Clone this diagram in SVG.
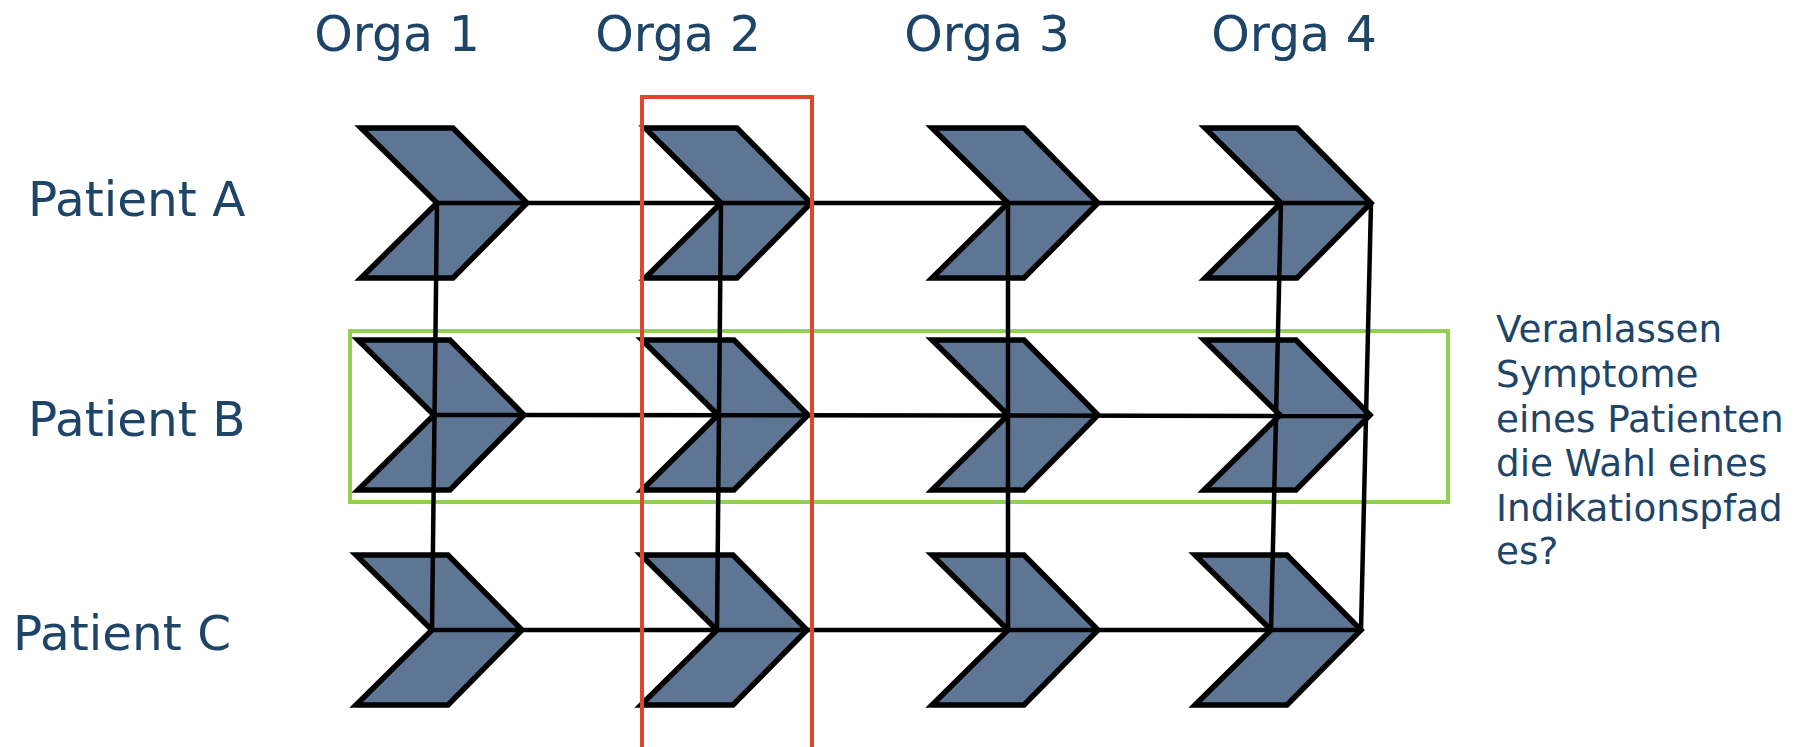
<svg xmlns="http://www.w3.org/2000/svg" width="1802" height="747" viewBox="0 0 1802 747">
  <defs>
    <style>
      .lbl { font-family: "DejaVu Sans", Verdana, sans-serif; fill: #1e4568; }
      .head { font-size: 49px; text-anchor: middle; }
      .row { font-size: 48.5px; }
      .note { font-size: 37.3px; }
      .chev { fill: #5e7594; stroke: #000; stroke-width: 5.5; stroke-linejoin: miter; }
      .link { stroke: #000; stroke-width: 4.5; fill: none; stroke-linecap: butt; }
    </style>
    <!-- chevron, left edge at x=0, top at y=0 -->
    <path id="chevron" d="M0,0 L92,0 L166,75 L92,150 L0,150 L76,75 Z"/>
  </defs>

  <rect width="1802" height="747" fill="#ffffff"/>

  <!-- column headings -->
  <g id="headings">
    <text class="lbl head" x="397" y="51">Orga 1</text>
    <text class="lbl head" x="678" y="51">Orga 2</text>
    <text class="lbl head" x="987" y="51">Orga 3</text>
    <text class="lbl head" x="1294" y="51">Orga 4</text>
  </g>

  <!-- row labels -->
  <g id="row-labels">
    <text class="lbl row" x="28" y="216">Patient A</text>
    <text class="lbl row" x="28" y="436">Patient B</text>
    <text class="lbl row" x="13" y="650">Patient C</text>
  </g>

  <!-- process steps -->
  <g id="a1"><use href="#chevron" class="chev" x="361" y="128"/></g>
  <g id="a2"><use href="#chevron" class="chev" x="645" y="128"/></g>
  <g id="a3"><use href="#chevron" class="chev" x="932" y="128"/></g>
  <g id="a4"><use href="#chevron" class="chev" x="1205" y="128"/></g>

  <g id="b1"><use href="#chevron" class="chev" x="358" y="340"/></g>
  <g id="b2"><use href="#chevron" class="chev" x="642" y="340"/></g>
  <g id="b3"><use href="#chevron" class="chev" x="932" y="340"/></g>
  <g id="b4"><use href="#chevron" class="chev" x="1204" y="340"/></g>

  <g id="c1"><use href="#chevron" class="chev" x="356" y="555"/></g>
  <g id="c2"><use href="#chevron" class="chev" x="641" y="555"/></g>
  <g id="c3"><use href="#chevron" class="chev" x="932" y="555"/></g>
  <g id="c4"><use href="#chevron" class="chev" x="1195" y="555"/></g>

  <!-- patient row highlight -->
  <g id="row-highlight">
    <rect x="350" y="331" width="1098" height="171" fill="none" stroke="#92d050" stroke-width="4"/>
  </g>

  <!-- connectors -->
  <g id="connectors" class="link">
    <line class="link" x1="437" y1="203" x2="1371" y2="203"/>
    <line class="link" x1="434" y1="415" x2="1371" y2="416"/>
    <line class="link" x1="432" y1="630" x2="1361" y2="630"/>
    <line class="link" x1="437" y1="203" x2="432" y2="630"/>
    <line class="link" x1="721" y1="203" x2="717" y2="630"/>
    <line class="link" x1="1008" y1="203" x2="1008" y2="630"/>
    <line class="link" x1="1281" y1="203" x2="1271" y2="630"/>
    <line class="link" x1="1371" y1="203" x2="1361" y2="630"/>
  </g>

  <!-- organisation column highlight -->
  <g id="column-highlight">
    <rect x="642" y="97" width="170" height="670" fill="none" stroke="#e0462e" stroke-width="4"/>
  </g>

  <!-- question -->
  <g id="question">
    <text class="lbl note" x="1496" y="342">Veranlassen</text>
    <text class="lbl note" x="1496" y="387">Symptome</text>
    <text class="lbl note" x="1496" y="432">eines Patienten</text>
    <text class="lbl note" x="1496" y="476">die Wahl eines</text>
    <text class="lbl note" x="1496" y="521">Indikationspfad</text>
    <text class="lbl note" x="1496" y="564">es?</text>
  </g>
</svg>
